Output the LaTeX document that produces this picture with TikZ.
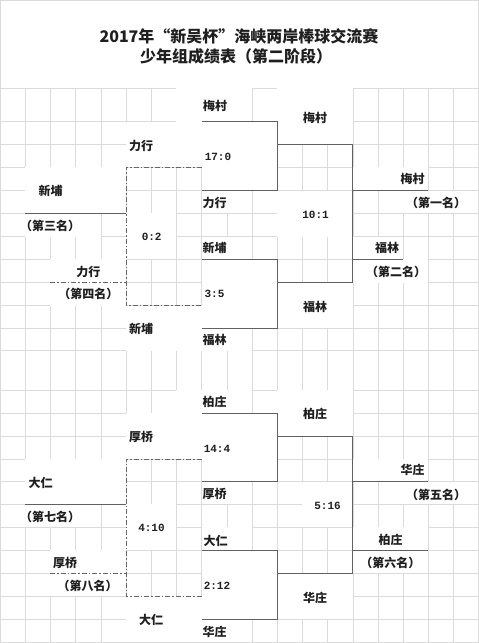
\documentclass[tikz,border=0pt]{standalone}
\usepackage{fontspec}
\newfontfamily\cjk{Noto Sans CJK SC}
\newfontfamily\scfont{Liberation Mono}
\def\rowarr{{88,121.7,144.3,167.3,190.7,213.3,236.7,259.3,282.7,305.7,328.3,350.7,390,413.3,436,459,481.7,504.3,527.3,550.3,573.3,596.3,619.3,642.3}}
\newcommand\cpt[3]{\coordinate (#1) at ({25.2*#2},{\rowarr[#3]});}
\begin{document}
\begin{tikzpicture}[x=1pt,y=-1pt,
  gridline/.style={draw=black!14, line width=0.6pt},
  bracket/.style={draw=black!62, line width=1pt},
  dashb/.style={draw=black!60, line width=0.9pt, dash pattern=on 5pt off 2pt on 1.5pt off 2pt},
  lab/.style={font=\cjk\bfseries\fontsize{12}{12}\selectfont, inner sep=0pt, text=black!88},
  sc/.style={font=\scfont\bfseries\fontsize{11}{11}\selectfont, inner sep=0pt, text=black!88},
  ttl/.style={font=\cjk\bfseries\fontsize{16}{16}\selectfont, inner sep=0pt, text=black!88}]
\useasboundingbox (0,0) rectangle (479,643);
\fill[white] (0,0) rectangle (479,643);
% grid
\foreach \i in {0,...,19} \draw[gridline] ({25.2*\i},88) -- ({25.2*\i},643);
\foreach \j in {0,...,23} \draw[gridline] (0,{\rowarr[\j]}) -- (479,{\rowarr[\j]});
% merged (white) cells
\foreach \a/\b/\c/\d in {7/10/0/1,11/14/0/2,5/8/1/3,8/11/1/4,8/10/4/5,1/5/3/5,1/4/5/6,5/7/5/7,8/10/6/7,8/11/7/10,8/10/10/11,5/8/9/11,2/5/7/8,2/5/8/9,11/14/8/10,14/17/3/4,16/19/4/5,11/14/4/6,14/16/6/7,14/17/7/8,
 7/10/12/13,11/14/12/14,5/8/13/15,8/11/13/16,8/10/16/17,1/5/15/17,1/4/17/18,5/7/17/19,8/10/18/19,8/11/19/22,8/10/22/23,5/8/21/23,2/5/19/20,2/5/20/21,11/14/20/22,14/17/15/16,16/19/16/17,12/14/16/18,14/17/18/19,14/17/19/20}
  \fill[white] ({25.2*\a},{\rowarr[\c]}) rectangle ({25.2*\b},{\rowarr[\d]});
\draw[gridline] (0.3,0.3) rectangle (478.7,642.7);
% ---- upper bracket
\cpt{m1a}{8}{1}\cpt{m1b}{11}{1}\cpt{m1c}{11}{4}\cpt{m1d}{8}{4}
\cpt{m2a}{8}{7}\cpt{m2b}{11}{7}\cpt{m2c}{11}{10}\cpt{m2d}{8}{10}
\cpt{f1a}{11}{2}\cpt{f1b}{14}{2}\cpt{f1c}{14}{8}\cpt{f1d}{11}{8}
\cpt{w1a}{14}{4}\cpt{w1b}{17}{4}\cpt{w2a}{14}{7}\cpt{w2b}{16}{7}
\cpt{d1a}{8}{3}\cpt{d1b}{5}{3}\cpt{d1c}{5}{9}\cpt{d1d}{8}{9}
\cpt{p3a}{1}{5}\cpt{p3b}{5}{5}\cpt{p4a}{2}{8}\cpt{p4b}{5}{8}
\draw[bracket] (m1a) -- (m1b) -- (m1c) -- (m1d);
\draw[bracket] (m2a) -- (m2b) -- (m2c) -- (m2d);
\draw[bracket] (f1a) -- (f1b) -- (f1c) -- (f1d);
\draw[bracket] (w1a) -- (w1b);
\draw[bracket] (w2a) -- (w2b);
\draw[dashb] (d1a) -- (d1b) -- (d1c) -- (d1d);
\draw[bracket] (p3a) -- (p3b);
\draw[dashb] (p4a) -- (p4b);
% ---- lower bracket
\cpt{m3a}{8}{13}\cpt{m3b}{11}{13}\cpt{m3c}{11}{16}\cpt{m3d}{8}{16}
\cpt{m4a}{8}{19}\cpt{m4b}{11}{19}\cpt{m4c}{11}{22}\cpt{m4d}{8}{22}
\cpt{f2a}{11}{14}\cpt{f2b}{14}{14}\cpt{f2c}{14}{20}\cpt{f2d}{11}{20}
\cpt{w3a}{14}{16}\cpt{w3b}{17}{16}\cpt{w4a}{14}{19}\cpt{w4b}{17}{19}
\cpt{d2a}{8}{15}\cpt{d2b}{5}{15}\cpt{d2c}{5}{21}\cpt{d2d}{8}{21}
\cpt{p7a}{1}{17}\cpt{p7b}{5}{17}\cpt{p8a}{2}{20}\cpt{p8b}{5}{20}
\draw[bracket] (m3a) -- (m3b) -- (m3c) -- (m3d);
\draw[bracket] (m4a) -- (m4b) -- (m4c) -- (m4d);
\draw[bracket] (f2a) -- (f2b) -- (f2c) -- (f2d);
\draw[bracket] (w3a) -- (w3b);
\draw[bracket] (w4a) -- (w4b);
\draw[dashb] (d2a) -- (d2b) -- (d2c) -- (d2d);
\draw[bracket] (p7a) -- (p7b);
\draw[dashb] (p8a) -- (p8b);
% ---- title
\node[ttl] (title1) at (239,36) {2017年“新吴杯”海峡两岸棒球交流赛};
\node[ttl] (title2) at (236,56) {少年组成绩表（第二阶段）};
% ---- upper labels
\node[lab] (t1) at (215,106) {梅村};
\node[lab] (t2) at (315,118) {梅村};
\node[lab] (t3) at (141,146) {力行};
\node[sc]  (t4) at (218,156.5) {17:0};
\node[lab] (t5) at (214.5,202.5) {力行};
\node[lab] (t6) at (50.5,190.5) {新埔};
\node[lab] (t7) at (50,226) {（第三名）};
\node[sc]  (t8) at (151.7,236.7) {0:2};
\node[lab] (t9) at (214.5,248.3) {新埔};
\node[sc]  (t10) at (214.5,294.3) {3:5};
\node[lab] (t11) at (214.5,340) {福林};
\node[lab] (t12) at (141,329.3) {新埔};
\node[lab] (t13) at (88.3,271.7) {力行};
\node[lab] (t14) at (88.3,294.3) {（第四名）};
\node[sc]  (t15) at (315.5,215) {10:1};
\node[lab] (t16) at (315,306.7) {福林};
\node[lab] (t17) at (412.5,179.3) {梅村};
\node[lab] (t18) at (436,203.3) {（第一名）};
\node[lab] (t19) at (387,248.3) {福林};
\node[lab] (t20) at (396,271.7) {（第二名）};
% ---- lower labels
\node[lab] (u1) at (214.5,402.3) {柏庄};
\node[lab] (u2) at (315,414.3) {柏庄};
\node[lab] (u3) at (141,436.7) {厚桥};
\node[sc]  (u4) at (217,449) {14:4};
\node[lab] (u5) at (214.5,494) {厚桥};
\node[lab] (u6) at (40.5,483.3) {大仁};
\node[lab] (u7) at (50,516.7) {（第七名）};
\node[sc]  (u8) at (151.5,528.3) {4:10};
\node[lab] (u9) at (215.5,541) {大仁};
\node[sc]  (u10) at (217,585.7) {2:12};
\node[lab] (u11) at (214.5,631.7) {华庄};
\node[lab] (u12) at (151,620) {大仁};
\node[lab] (u13) at (65,563.3) {厚桥};
\node[lab] (u14) at (87.5,586) {（第八名）};
\node[sc]  (u15) at (327.5,506) {5:16};
\node[lab] (u16) at (315,597.7) {华庄};
\node[lab] (u17) at (412.5,470) {华庄};
\node[lab] (u18) at (436,495) {（第五名）};
\node[lab] (u19) at (390.5,540) {柏庄};
\node[lab] (u20) at (390.3,562.7) {（第六名）};
\end{tikzpicture}
\end{document}
